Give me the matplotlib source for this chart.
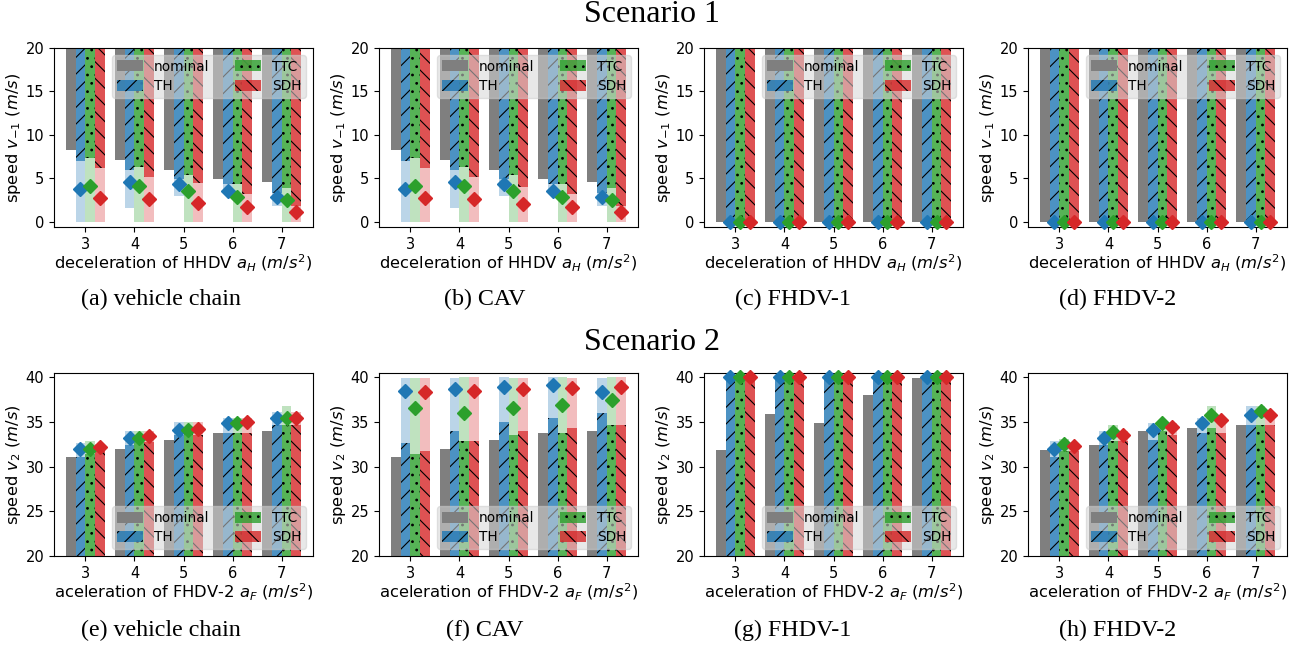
import numpy as np
import matplotlib
matplotlib.use("Agg")
import matplotlib.pyplot as plt

# ---------------- data ----------------
groups = [3, 4, 5, 6, 7]
methods = ["TH", "TTC", "SDH"]

# Scenario 1 (speed v_-1), panels a-d
s1_nominal = {
    "a": [8.27, 7.10, 5.96, 4.96, 4.60],
    "b": [8.27, 7.10, 5.96, 4.96, 4.60],
    "c": [0, 0, 0, 0, 0],
    "d": [0, 0, 0, 0, 0],
}
s1_min = {
    "a": {"TH": [0, 1.60, 3.00, 3.23, 1.85], "TTC": [0, 0, 0, 0, 0], "SDH": [0, 0, 0, 0, 0]},
    "b": {"TH": [0, 1.60, 3.00, 3.23, 1.85], "TTC": [0, 0, 0, 0, 0], "SDH": [0, 0, 0, 0, 0]},
    "c": {"TH": [0, 0, 0, 0, 0], "TTC": [0, 0, 0, 0, 0], "SDH": [0, 0, 0, 0, 0]},
    "d": {"TH": [0, 0, 0, 0, 0], "TTC": [0, 0, 0, 0, 0], "SDH": [0, 0, 0, 0, 0]},
}
s1_max = {
    "a": {"TH": [7.00, 5.96, 4.92, 4.35, 3.30], "TTC": [7.38, 6.30, 5.38, 4.35, 3.92], "SDH": [6.23, 5.15, 4.46, 3.23, 1.85]},
    "b": {"TH": [7.00, 5.96, 4.92, 4.35, 3.30], "TTC": [7.38, 6.30, 5.38, 4.35, 3.92], "SDH": [6.23, 5.15, 4.04, 3.23, 1.85]},
    "c": {"TH": [0, 0, 0, 0, 0], "TTC": [0, 0, 0, 0, 0], "SDH": [0, 0, 0, 0, 0]},
    "d": {"TH": [0, 0, 0, 0, 0], "TTC": [0, 0, 0, 0, 0], "SDH": [0, 0, 0, 0, 0]},
}
s1_mean = {
    "a": {"TH": [3.73, 4.58, 4.30, 3.60, 2.88], "TTC": [4.10, 4.15, 3.54, 2.80, 2.50], "SDH": [2.77, 2.58, 2.19, 1.70, 1.15]},
    "b": {"TH": [3.73, 4.58, 4.30, 3.60, 2.88], "TTC": [4.10, 4.15, 3.54, 2.80, 2.45], "SDH": [2.77, 2.58, 2.10, 1.70, 1.15]},
    "c": {"TH": [0, 0, 0, 0, 0], "TTC": [0, 0, 0, 0, 0], "SDH": [0, 0, 0, 0, 0]},
    "d": {"TH": [0, 0, 0, 0, 0], "TTC": [0, 0, 0, 0, 0], "SDH": [0, 0, 0, 0, 0]},
}

# Scenario 2 (speed v_2), panels e-h
s2_nominal = {
    "e": [31.07, 31.96, 32.97, 33.80, 33.98],
    "f": [31.07, 31.96, 32.97, 33.80, 33.98],
    "g": [31.93, 35.96, 34.95, 38.00, 39.90],
    "h": [31.93, 32.41, 33.98, 34.39, 34.65],
}
s2_min = {
    "e": {"TH": [31.10, 32.41, 33.53, 33.80, 34.65], "TTC": [31.40, 32.78, 33.64, 33.80, 34.65], "SDH": [31.78, 32.78, 33.53, 33.80, 34.65]},
    "f": {"TH": [32.64, 33.98, 34.99, 35.50, 36.07], "TTC": [31.40, 32.86, 33.53, 33.80, 34.65], "SDH": [31.78, 32.86, 33.98, 34.39, 34.65]},
    "g": {"TH": [40, 40, 40, 40, 40], "TTC": [40, 40, 40, 40, 40], "SDH": [40, 40, 40, 40, 40]},
    "h": {"TH": [31.10, 32.41, 32.97, 33.80, 34.65], "TTC": [31.78, 32.86, 33.98, 34.39, 34.65], "SDH": [31.78, 32.86, 33.53, 33.80, 34.65]},
}
s2_max = {
    "e": {"TH": [32.67, 33.98, 35.03, 35.50, 36.15], "TTC": [32.90, 33.98, 35.03, 35.50, 36.80], "SDH": [32.60, 33.98, 35.03, 35.50, 36.15]},
    "f": {"TH": [39.90, 39.90, 40.0, 40.0, 39.90], "TTC": [39.90, 40.0, 39.90, 40.0, 40.0], "SDH": [39.90, 40.0, 39.90, 39.90, 40.0]},
    "g": {"TH": [40, 40, 40, 40, 40], "TTC": [40, 40, 40, 40, 40], "SDH": [40, 40, 40, 40, 40]},
    "h": {"TH": [32.86, 33.98, 34.95, 35.50, 36.78], "TTC": [33.16, 34.73, 34.95, 36.78, 36.78], "SDH": [32.60, 33.98, 34.95, 35.50, 36.15]},
}
s2_mean = {
    "e": {"TH": [32.04, 33.23, 34.10, 34.95, 35.50], "TTC": [32.04, 33.23, 34.10, 34.90, 35.50], "SDH": [32.26, 33.42, 34.20, 35.03, 35.50]},
    "f": {"TH": [38.50, 38.73, 38.95, 39.14, 38.32], "TTC": [36.56, 36.04, 36.60, 36.97, 37.53], "SDH": [38.32, 38.50, 38.73, 38.80, 38.88]},
    "g": {"TH": [40, 40, 40, 40, 40], "TTC": [40, 40, 40, 40, 40], "SDH": [40, 40, 40, 40, 40]},
    "h": {"TH": [32.04, 33.27, 34.17, 34.90, 35.85], "TTC": [32.60, 33.90, 34.88, 35.78, 36.26], "SDH": [32.37, 33.60, 34.47, 35.20, 35.85]},
}

captions = {
    "a": "(a) vehicle chain", "b": "(b) CAV", "c": "(c) FHDV-1", "d": "(d) FHDV-2",
    "e": "(e) vehicle chain", "f": "(f) CAV", "g": "(g) FHDV-1", "h": "(h) FHDV-2",
}
legend_labels = ["nominal", "TH", "TTC", "SDH"]
xlabel1 = r"deceleration of HHDV $a_H$ $(m/s^2)$"
xlabel2 = r"aceleration of FHDV-2 $a_F$ $(m/s^2)$"
ylabel1 = r"speed $v_{-1}$ $(m/s)$"
ylabel2 = r"speed $v_2$ $(m/s)$"

# ---------------- style ----------------
colors = {"nominal": "tab:gray", "TH": "tab:blue", "TTC": "tab:green", "SDH": "tab:red"}
hatches = {"TH": "//", "TTC": "..", "SDH": "\\\\"}
offsets = {"nominal": -0.3, "TH": -0.1, "TTC": 0.1, "SDH": 0.3}
W = 0.2
plt.rcParams["hatch.linewidth"] = 0.8
plt.rcParams["font.size"] = 10.5

fig = plt.figure(figsize=(13.05, 6.47), dpi=100)
FW, FH = 1305, 647
lefts = [54, 379, 704, 1028]
AXW = 259


def make_ax(left, top, bottom):
    return fig.add_axes([left / FW, 1 - bottom / FH, AXW / FW, (bottom - top) / FH])


def finish(ax, xlabel, ylabel, loc):
    ax.set_xticks(groups)
    ax.set_xlabel(xlabel, fontsize=11.8, labelpad=1)
    ax.set_ylabel(ylabel, fontsize=11.8, labelpad=2)
    ax.tick_params(labelsize=10.5)
    handles = [ax._legend_src[m] for m in legend_labels]
    leg = ax.legend(handles, legend_labels, ncol=2, loc=loc, fontsize=9.8,
                    facecolor="#d6d6d6", framealpha=0.55, edgecolor="#cccccc",
                    labelspacing=0.4, borderpad=0.35, borderaxespad=0.5,
                    handleheight=0.85, handlelength=1.9, columnspacing=1.9)
    leg.set_zorder(10)


x = np.array(groups, dtype=float)
YTOP1 = 20.0
YBOT2 = 20.0

# Scenario 1
for i, k in enumerate(["a", "b", "c", "d"]):
    ax = make_ax(lefts[i], 48, 227)
    ax._legend_src = {}
    nom = np.array(s1_nominal[k])
    b = ax.bar(x + offsets["nominal"], YTOP1 - nom, bottom=nom, width=W,
               color=colors["nominal"], linewidth=0, zorder=2)
    ax._legend_src["nominal"] = b
    for m in methods:
        lo = np.array(s1_min[k][m]); hi = np.array(s1_max[k][m]); mu = np.array(s1_mean[k][m])
        ax.bar(x + offsets[m], hi - lo, bottom=lo, width=W, color=colors[m],
               alpha=0.3, linewidth=0, zorder=1)
        b = ax.bar(x + offsets[m], YTOP1 - hi, bottom=hi, width=W, color=colors[m],
                   alpha=0.8, hatch=hatches[m], linewidth=0, zorder=2)
        ax._legend_src[m] = b
        ax.plot(x + offsets[m], mu, "D", color=colors[m], ms=7, ls="none",
                zorder=4, clip_on=False)
    ax.set_ylim(-0.6, YTOP1)
    ax.set_xlim(2.36, 7.64)
    ax.set_yticks([0, 5, 10, 15, 20])
    finish(ax, xlabel1, ylabel1, "upper right")

# Scenario 2
for i, k in enumerate(["e", "f", "g", "h"]):
    ax = make_ax(lefts[i], 373, 556)
    ax._legend_src = {}
    nom = np.array(s2_nominal[k])
    b = ax.bar(x + offsets["nominal"], nom - YBOT2, bottom=YBOT2, width=W,
               color=colors["nominal"], linewidth=0, zorder=2)
    ax._legend_src["nominal"] = b
    for m in methods:
        lo = np.array(s2_min[k][m]); hi = np.array(s2_max[k][m]); mu = np.array(s2_mean[k][m])
        ax.bar(x + offsets[m], hi - lo, bottom=lo, width=W, color=colors[m],
               alpha=0.3, linewidth=0, zorder=1)
        b = ax.bar(x + offsets[m], lo - YBOT2, bottom=YBOT2, width=W, color=colors[m],
                   alpha=0.8, hatch=hatches[m], linewidth=0, zorder=2)
        ax._legend_src[m] = b
        ax.plot(x + offsets[m], mu, "D", color=colors[m], ms=7, ls="none",
                zorder=4, clip_on=False)
    ax.set_ylim(YBOT2, 40.5)
    ax.set_xlim(2.36, 7.64)
    ax.set_yticks([20, 25, 30, 35, 40])
    finish(ax, xlabel2, ylabel2, "lower right")

serif = ["Liberation Serif", "DejaVu Serif"]
fig.text(652 / FW, 1 - 15 / FH, "Scenario 1", ha="center", va="center", family=serif, fontsize=23)
fig.text(652 / FW, 1 - 342 / FH, "Scenario 2", ha="center", va="center", family=serif, fontsize=23)
cap_x = [161, 485, 793, 1118]
for i, k in enumerate(["a", "b", "c", "d"]):
    fig.text(cap_x[i] / FW, 1 - 299 / FH, captions[k], ha="center", va="center", family=serif, fontsize=17.3)
for i, k in enumerate(["e", "f", "g", "h"]):
    fig.text(cap_x[i] / FW, 1 - 630 / FH, captions[k], ha="center", va="center", family=serif, fontsize=17.3)

fig.savefig("out.png", dpi=100)
